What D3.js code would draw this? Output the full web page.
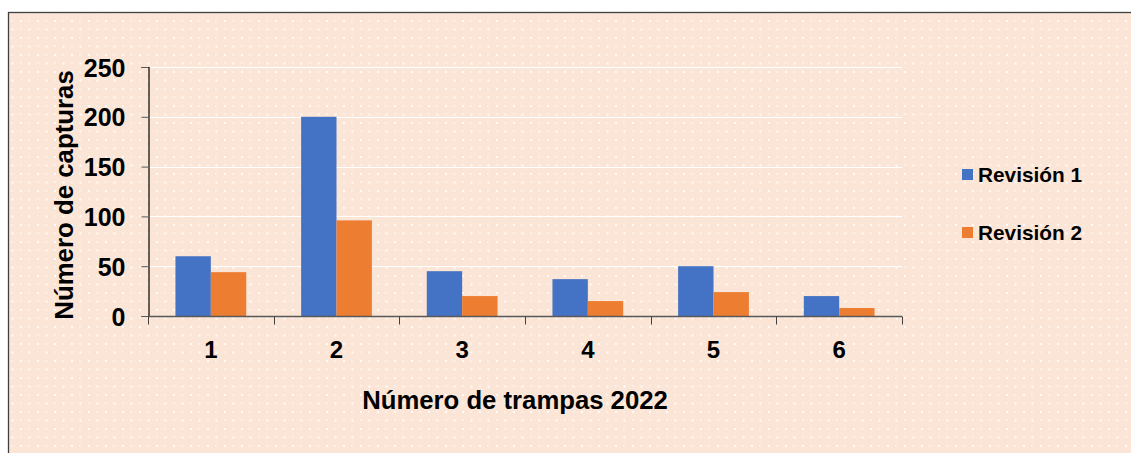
<!DOCTYPE html>
<html>
<head>
<meta charset="utf-8">
<script src="https://cdn.jsdelivr.net/npm/d3@7"></script>
<style>
  html, body { margin: 0; padding: 0; background: #fff; }
  svg { display: block; }
  text { font-family: "Liberation Sans", Arial, sans-serif; font-weight: bold; fill: #000; }
</style>
</head>
<body>
<div class="graph"></div>
<script>
const categories = ["1", "2", "3", "4", "5", "6"];
const seriesNames = ["Revisión 1", "Revisión 2"];
const revision1 = [60, 200, 45, 37, 50, 20];
const revision2 = [44, 96, 20, 15, 24, 8];
const yTicks = [0, 50, 100, 150, 200, 250];
const colors = ["#4472C4", "#ED7D31"];

const width = 1131,
      height = 453;
const plot = { left: 148, right: 902, top: 67, bottom: 316 };

const svg = d3.select(".graph")
  .append("svg")
  .attr("width", width)
  .attr("height", height);

// dotted background pattern
const defs = svg.append("defs");
const pat = defs.append("pattern")
  .attr("id", "dots")
  .attr("patternUnits", "userSpaceOnUse")
  .attr("width", 17)
  .attr("height", 17);
pat.append("rect").attr("width", 17).attr("height", 17).attr("fill", "#FBE5D6");
pat.append("rect").attr("x", 3).attr("y", 3).attr("width", 2).attr("height", 2).attr("fill", "#fff").attr("opacity", 0.9);
pat.append("rect").attr("x", 11.5).attr("y", 3).attr("width", 1).attr("height", 2).attr("fill", "#fff").attr("opacity", 0.8);
pat.append("rect").attr("x", 3).attr("y", 11.5).attr("width", 2).attr("height", 1).attr("fill", "#fff").attr("opacity", 0.8);
pat.append("rect").attr("x", 11.5).attr("y", 11.5).attr("width", 2).attr("height", 2).attr("fill", "#fff").attr("opacity", 0.9);

// chart frame runs past the right and bottom edges
svg.append("rect")
  .attr("x", 8.5).attr("y", 12.5)
  .attr("width", width + 10).attr("height", height + 10)
  .attr("fill", "url(#dots)")
  .attr("stroke", "#404040")
  .attr("stroke-width", 1.3);

const x0 = d3.scaleBand()
  .domain(categories)
  .range([plot.left, plot.right])
  .paddingInner(0.437)
  .paddingOuter(0.2185);

const x1 = d3.scaleBand()
  .domain(seriesNames)
  .range([0, x0.bandwidth()]);

const y = d3.scaleLinear()
  .domain([0, 250])
  .range([plot.bottom, plot.top]);

// gridlines
svg.append("g")
  .selectAll("line")
  .data(yTicks.filter(d => d > 0))
  .enter()
  .append("line")
  .attr("x1", plot.left)
  .attr("x2", plot.right)
  .attr("y1", d => Math.round(y(d)) + 0.5)
  .attr("y2", d => Math.round(y(d)) + 0.5)
  .attr("stroke", "#fff")
  .attr("stroke-width", 1.2);

// bars
const groups = svg.append("g")
  .selectAll("g")
  .data(categories)
  .enter()
  .append("g")
  .attr("transform", d => `translate(${x0(d)},0)`);

groups.selectAll("rect")
  .data((d, i) => [revision1[i], revision2[i]].map((v, j) => ({ key: seriesNames[j], value: v, j })))
  .enter()
  .append("rect")
  .attr("x", d => x1(d.key))
  .attr("width", x1.bandwidth())
  .attr("y", d => y(d.value))
  .attr("height", d => y(0) - y(d.value))
  .attr("fill", d => colors[d.j]);

// y axis
const yAxis = d3.axisLeft(y).tickValues(yTicks).tickSize(7).tickPadding(16);
const gy = svg.append("g")
  .attr("transform", `translate(${plot.left + 0.5},0)`)
  .call(yAxis);
gy.select(".domain").attr("stroke", "#000").attr("stroke-width", 1.2);
gy.selectAll(".tick line").attr("stroke", "#595959");
gy.selectAll("text").style("font-size", "25px").attr("dy", "0.36em");

// x axis (ticks on category boundaries)
const xEdge = d3.scaleLinear().domain([0, categories.length]).range([plot.left, plot.right]);
const gx = svg.append("g")
  .attr("transform", `translate(0,${plot.bottom + 0.5})`);
gx.append("line")
  .attr("x1", plot.left).attr("x2", plot.right)
  .attr("stroke", "#595959").attr("stroke-width", 1.5);
gx.selectAll(".edge")
  .data(d3.range(categories.length + 1))
  .enter()
  .append("line")
  .attr("class", "edge")
  .attr("x1", d => Math.round(xEdge(d)) + 0.5)
  .attr("x2", d => Math.round(xEdge(d)) + 0.5)
  .attr("y1", 0).attr("y2", 8)
  .attr("stroke", "#404040");
gx.selectAll(".lbl")
  .data(categories)
  .enter()
  .append("text")
  .attr("class", "lbl")
  .attr("x", d => x0(d) + x0.bandwidth() / 2)
  .attr("y", 41)
  .attr("text-anchor", "middle")
  .style("font-size", "24px")
  .text(d => d);

// axis titles
svg.append("text")
  .attr("x", 515)
  .attr("y", 409)
  .attr("text-anchor", "middle")
  .style("font-size", "25.7px")
  .text("Número de trampas 2022");

svg.append("text")
  .attr("transform", "translate(73,195) rotate(-90)")
  .attr("text-anchor", "middle")
  .style("font-size", "25.8px")
  .text("Número de capturas");

// legend
const legend = svg.append("g")
  .selectAll("g")
  .data(seriesNames)
  .enter()
  .append("g")
  .attr("transform", (d, i) => `translate(962,${169 + i * 58})`);
legend.append("rect")
  .attr("width", 11).attr("height", 11)
  .attr("fill", (d, i) => colors[i]);
legend.append("text")
  .attr("x", 16)
  .attr("y", 13)
  .style("font-size", "20.8px")
  .text(d => d);
</script>
</body>
</html>
